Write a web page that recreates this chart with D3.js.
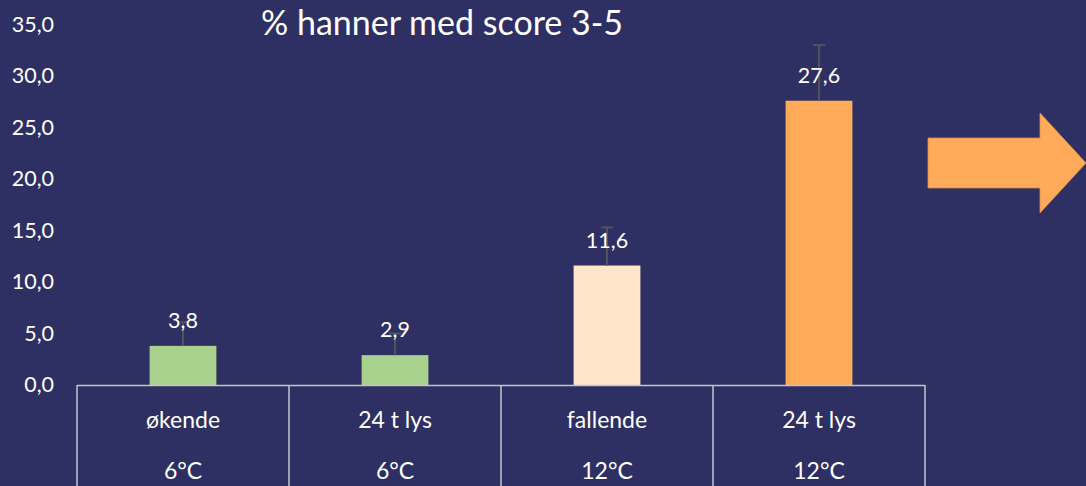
<!DOCTYPE html>
<html>
<head>
<meta charset="utf-8">
<script src="https://cdn.jsdelivr.net/npm/d3@7"></script>
<style>
  html, body { margin: 0; padding: 0; background: #2E3063; }
  svg { display: block; font-family: Lato, "Open Sans", sans-serif; }
</style>
</head>
<body>
<svg id="chart" width="1086" height="486"></svg>
<script>
// data
var lightRegime = ['økende', '24 t lys', 'fallende', '24 t lys'];
var temperature = ['6°C', '6°C', '12°C', '12°C'];
var pctScore = [3.8, 2.9, 11.6, 27.6];
var errValues = [2.3, 2.1, 3.7, 5.4];
var barColors = ['#A9D18E', '#A9D18E', '#FFE5C9', '#FFAB5A'];
var yTicks = [0, 5, 10, 15, 20, 25, 30, 35];

var svg = d3.select('#chart');
var W = +svg.attr('width'), H = +svg.attr('height');

svg.append('rect').attr('width', W).attr('height', H).attr('fill', '#2E3063');

var cats = d3.range(pctScore.length);
var xScale = d3.scaleBand().domain(cats).range([77, 925]).padding(0);
var yScale = d3.scaleLinear().domain([0, 35]).range([385, 385 - 35 * 10.3]);
var barW = xScale.bandwidth() * 0.315;
var fmt = function(v) { return d3.format('.1f')(v).replace('.', ','); };

// title
svg.append('text')
  .attr('x', 261).attr('y', 35)
  .attr('fill', '#fff')
  .attr('font-size', 34)
  .text('% hanner med score 3-5');

// y axis (labels only)
var yAxis = d3.axisLeft(yScale).tickValues(yTicks).tickFormat(fmt).tickSize(0).tickPadding(0);
var yG = svg.append('g').attr('transform', 'translate(54,0)').call(yAxis);
yG.select('.domain').remove();
yG.selectAll('text').attr('fill', '#fff').attr('font-size', 21.5)
  .attr('font-family', 'Lato, "Open Sans", sans-serif');

// bars
svg.selectAll('rect.bar')
  .data(pctScore)
  .enter().append('rect')
  .attr('class', 'bar')
  .attr('x', function(d, i) { return xScale(i) + xScale.bandwidth() / 2 - barW / 2; })
  .attr('y', function(d) { return yScale(d); })
  .attr('width', barW)
  .attr('height', function(d) { return yScale(0) - yScale(d); })
  .attr('fill', function(d, i) { return barColors[i]; });

// error bars (upper only)
var errG = svg.append('g').attr('stroke', '#50535a').attr('stroke-width', 2);
pctScore.forEach(function(d, i) {
  var cx = xScale(i) + xScale.bandwidth() / 2;
  errG.append('line')
    .attr('x1', cx).attr('x2', cx)
    .attr('y1', yScale(d)).attr('y2', yScale(d + errValues[i]));
  errG.append('line')
    .attr('x1', cx - 6).attr('x2', cx + 6)
    .attr('y1', yScale(d + errValues[i])).attr('y2', yScale(d + errValues[i]));
});

// value labels
svg.selectAll('text.val')
  .data(pctScore)
  .enter().append('text')
  .attr('class', 'val')
  .attr('x', function(d, i) { return xScale(i) + xScale.bandwidth() / 2; })
  .attr('y', function(d) { return yScale(d) - 18; })
  .attr('text-anchor', 'middle')
  .attr('fill', '#fff')
  .attr('font-size', 21.5)
  .text(fmt);

// category table
var tbl = svg.append('g').attr('stroke', '#c4c4cc').attr('stroke-width', 1.5);
tbl.append('line').attr('x1', 77).attr('x2', 925).attr('y1', 385.5).attr('y2', 385.5);
cats.concat([cats.length]).forEach(function(i) {
  var xx = i < cats.length ? xScale(i) : xScale(cats.length - 1) + xScale.bandwidth();
  tbl.append('line').attr('x1', xx).attr('x2', xx).attr('y1', 385).attr('y2', H);
});

svg.selectAll('text.cat1')
  .data(lightRegime)
  .enter().append('text')
  .attr('x', function(d, i) { return xScale(i) + xScale.bandwidth() / 2; })
  .attr('y', 428)
  .attr('text-anchor', 'middle')
  .attr('fill', '#fff')
  .attr('font-size', 23)
  .text(function(d) { return d; });

svg.selectAll('text.cat2')
  .data(temperature)
  .enter().append('text')
  .attr('x', function(d, i) { return xScale(i) + xScale.bandwidth() / 2; })
  .attr('y', 479)
  .attr('text-anchor', 'middle')
  .attr('fill', '#fff')
  .attr('font-size', 23)
  .text(function(d) { return d; });

// decorative arrow
svg.append('path')
  .attr('d', 'M928,138 L1040,138 L1040,113 L1086,163 L1040,213 L1040,188 L928,188 Z')
  .attr('fill', '#FFAB5A')
  .attr('stroke', '#d98e4a')
  .attr('stroke-width', 0.8);
</script>
</body>
</html>
